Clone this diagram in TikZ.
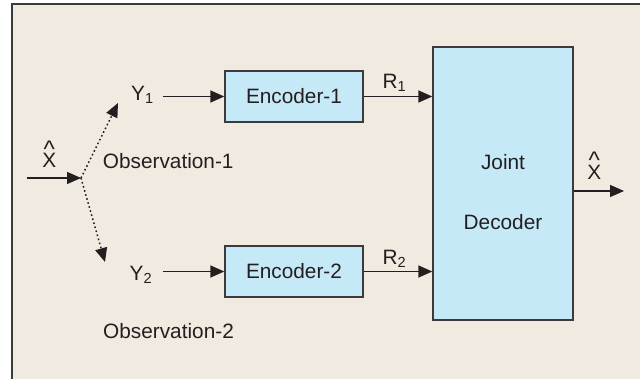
\documentclass[tikz,border=0pt]{standalone}
\usepackage{fontspec}
\setmainfont{Liberation Sans}
\usetikzlibrary{arrows.meta}
\definecolor{bgbeige}{HTML}{F1EAE1}
\definecolor{boxblue}{HTML}{C6E9F8}
\definecolor{inkc}{HTML}{231F20}
\definecolor{framec}{HTML}{3C3A3A}
\newcommand{\hatX}{\ooalign{X\cr\hidewidth\raisebox{10.5pt}{\fontsize{24}{24}\selectfont\textasciicircum}\hidewidth\cr}}
\begin{document}
\begin{tikzpicture}[x=1pt,y=-1pt,
  font=\fontsize{20.8}{24}\selectfont,
  txt/.style={text=inkc,inner sep=0pt,anchor=base west},
  blk/.style={draw=framec,line width=1.3pt,fill=boxblue,inner sep=0pt,text=inkc},
  arr/.style={draw=inkc,line width=1.4pt,-{Triangle[length=14pt,width=12pt]}},
  dotarr/.style={draw=inkc,line width=1.5pt,dash pattern=on 1.6pt off 2.6pt,-{Triangle[length=14pt,width=12pt]}}]
\useasboundingbox (0,0) rectangle (640,379);
\fill[white] (0,0) rectangle (640,379);
\draw[framec,line width=1.7pt,fill=bgbeige] (11.7,4.3) rectangle (660,400);
% blocks
\node[blk,minimum width=138pt,minimum height=51pt] (enc1) at (294,96.5) {Encoder-1};
\node[blk,minimum width=138pt,minimum height=51pt] (enc2) at (294,271.5) {Encoder-2};
\node[blk,minimum width=140pt,minimum height=273pt] (dec) at (503,183.5) {};
\node[txt,anchor=base] (joint) at (503,170) {Joint};
\node[txt,anchor=base] (decod) at (503,230) {Decoder};
% labels
\node[txt] (y1) at (131,100.7) {Y\textsubscript{1}};
\node[txt] (y2) at (129.5,280.7) {Y\textsubscript{2}};
\node[txt] (r1) at (382.5,88.3) {R\textsubscript{1}};
\node[txt] (r2) at (382.5,264.5) {R\textsubscript{2}};
\node[txt] (obs1) at (102.7,168.3) {Observation-1};
\node[txt] (obs2) at (103,338.3) {Observation-2};
\node[txt,anchor=base] (xin) at (49.3,167.7) {\hatX};
\node[txt,anchor=base] (xout) at (594.3,179.3) {\hatX};
% coordinates
\coordinate (inS) at (27,178);
\coordinate (split) at (81,178);
\coordinate (up) at (118,103);
\coordinate (down) at (105,262);
\coordinate (y1o) at (163,96.5);
\coordinate (y2o) at (163,271.5);
\coordinate (outE) at (624,191);
% connectors
\draw[arr] (inS) -- (split);
\draw[dotarr] (split) -- (up);
\draw[dotarr] (split) -- (down);
\draw[arr] (y1o) -- (enc1.west);
\draw[arr] (y2o) -- (enc2.west);
\draw[arr] (enc1.east) -- (enc1.east -| dec.west);
\draw[arr] (enc2.east) -- (enc2.east -| dec.west);
\draw[arr] (dec.east |- outE) -- (outE);
\end{tikzpicture}
\end{document}
